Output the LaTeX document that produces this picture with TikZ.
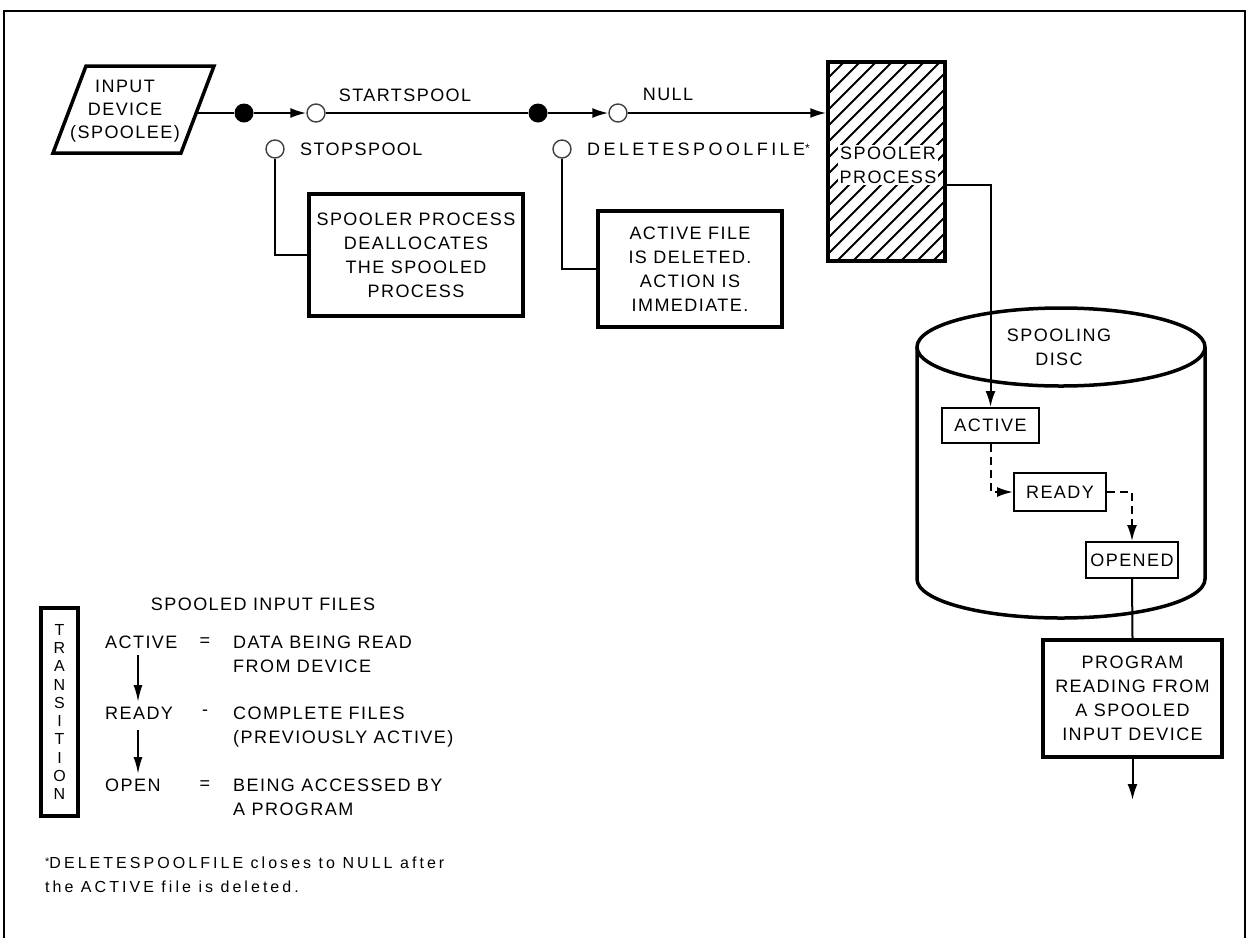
\documentclass[tikz,border=0pt]{standalone}
\usepackage{fontspec}
\setmainfont{Liberation Sans}[LetterSpace=8]
\usetikzlibrary{arrows.meta}
\begin{document}
\begin{tikzpicture}[x=1pt,y=-1pt,
  >={Latex[length=16pt,width=10pt]},
  mf/.style={font=\fontsize{18}{24}\selectfont},
  sf/.style={font=\fontsize{16}{24}\selectfont\addfontfeature{LetterSpace=19}},
  tbox/.style={draw, line width=3.5pt, align=center, mf, inner sep=0pt},
  sbox/.style={draw, line width=2pt, align=center, mf, inner sep=0pt},
  conn/.style={line width=2pt},
  dotf/.style={circle, fill, inner sep=0pt, minimum size=19pt},
  doto/.style={circle, draw=black!75, line width=1.4pt, fill=white, inner sep=0pt, minimum size=18pt},
  legarrow/.style={line width=2pt, -{Latex[length=17pt,width=9pt]}},
  lbl/.style={mf, inner sep=0pt}
]
\useasboundingbox (0,0) rectangle (1247,938);
% frame
\draw[line width=2pt] (4,938) -- (4,11) -- (1245,11) -- (1245,938);

% input device
\draw[line width=3.5pt, line join=miter] (86,66) -- (214,66) -- (181,153) -- (53,153) -- cycle;
\node[mf, align=center, font=\fontsize{18}{23}\selectfont] (inp) at (125,111) {INPUT\\DEVICE\\(SPOOLEE)};
\coordinate (inR) at (197,113);

% switch points
\node[dotf] (d1) at (244,113) {};
\node[doto] (c1) at (316,113) {};
\node[dotf] (d2) at (538,113) {};
\node[doto] (c2) at (618,113) {};
\node[doto] (cs) at (275,149) {};
\node[doto] (cd) at (562,149) {};

\node[lbl] (lstart) at (405,95) {STARTSPOOL};
\node[lbl] (lnull) at (668,94) {NULL};
\node[lbl, anchor=west] (lstop) at (300,149) {STOPSPOOL};
\node[lbl, anchor=west] (ldel) at (587,149) {\addfontfeature{LetterSpace=19}DELETESPOOLFILE\raisebox{3pt}{\fontsize{12}{12}\selectfont*}};

% spooler process (hatched)
\begin{scope}
  \clip (828,62) rectangle (945,261);
  \foreach \i in {0,...,21} \draw[line width=1.8pt] (629+\i*16,261) -- ++(230,-230);
\end{scope}
\node[tbox, minimum width=117, minimum height=199] (sp) at (886.5,161.5) {};
\node[mf, fill=white, inner sep=1.5pt, align=center] (sptext) at (888,165) {SPOOLER\\PROCESS};

% boxes
\node[tbox, minimum width=214, minimum height=122] (stopbox) at (416,255) {SPOOLER PROCESS\\DEALLOCATES\\THE SPOOLED\\PROCESS};
\node[tbox, minimum width=184, minimum height=116] (delbox) at (690,269) {ACTIVE FILE\\IS DELETED.\\ACTION IS\\IMMEDIATE.};

% main line
\draw[conn] (inR) -- (d1);
\draw[conn,->] (d1) -- (c1);
\draw[conn] (c1) -- (d2);
\draw[conn,->] (d2) -- (c2);
\draw[conn,->] (c2) -- (c2 -| sp.west);
\draw[conn] (cs) |- (stopbox.west);
\draw[conn] (cd) |- (delbox.west);

% cylinder
\draw[line width=3.5pt] (917,347) -- (917,579) arc[start angle=180, end angle=0, x radius=144, y radius=39] -- (1205,347);
\draw[line width=3.5pt] (1061,347) ellipse [x radius=144, y radius=39];
\node[mf, align=center] (disc) at (1059,347) {SPOOLING\\DISC};

\node[sbox, minimum width=97, minimum height=35] (active) at (990.5,425.5) {ACTIVE};
\node[sbox, minimum width=92, minimum height=38] (ready) at (1060,492) {READY};
\node[sbox, minimum width=92, minimum height=36] (opened) at (1132,560) {OPENED};

\draw[conn,->] ([yshift=-23.5pt]sp.east) -| (active.north);
\draw[conn,dash pattern=on 8pt off 5pt,->] (active.south) |- (ready.west);
\draw[conn,dash pattern=on 8pt off 5pt,->] (ready.east) -| (opened.north);

\node[tbox, minimum width=179, minimum height=117] (prog) at (1132.5,698.5) {PROGRAM\\READING FROM\\A SPOOLED\\INPUT DEVICE};
\draw[conn] (opened.south) -- (prog.north);
\coordinate (progout) at (1132.5,800);
\draw[conn,->] (prog.south) -- (progout);

% legend
\node[mf] (ltitle) at (263,604) {SPOOLED INPUT FILES};
\node[draw, line width=3.5pt, minimum width=37, minimum height=208, inner sep=0pt, align=center,
      font=\fontsize{16}{18.3}\selectfont] (trans) at (59.5,712) {T\\R\\A\\N\\S\\I\\T\\I\\O\\N};

\node[lbl, anchor=north west] (la) at (105,635.5) {ACTIVE};
\node[lbl] (eq1) at (205,642) {=};
\node[lbl, anchor=north west, align=left] (da) at (233,635.5) {DATA BEING READ\\FROM DEVICE};
\node[lbl, anchor=north west] (lr) at (105,706.5) {READY};
\node[lbl] (eq2) at (205,713) {-};
\node[lbl, anchor=north west, align=left] (dr) at (233,706.5) {COMPLETE FILES\\(PREVIOUSLY ACTIVE)};
\node[lbl, anchor=north west] (lo) at (105,778.5) {OPEN};
\node[lbl] (eq3) at (205,785) {=};
\node[lbl, anchor=north west, align=left] (dopen) at (233,778.5) {BEING ACCESSED BY\\A PROGRAM};

\coordinate (a1s) at (138,655);
\coordinate (a1e) at (138,702);
\coordinate (a2s) at (138,730);
\coordinate (a2e) at (138,774);
\draw[legarrow] (a1s) -- (a1e);
\draw[legarrow] (a2s) -- (a2e);

% footnote
\node[sf, anchor=north west, align=left, inner sep=0pt] (fn) at (45,857) {\raisebox{3pt}{\fontsize{11}{11}\selectfont*}DELETESPOOLFILE closes to NULL after\\the ACTIVE file is deleted.};
\end{tikzpicture}
\end{document}
